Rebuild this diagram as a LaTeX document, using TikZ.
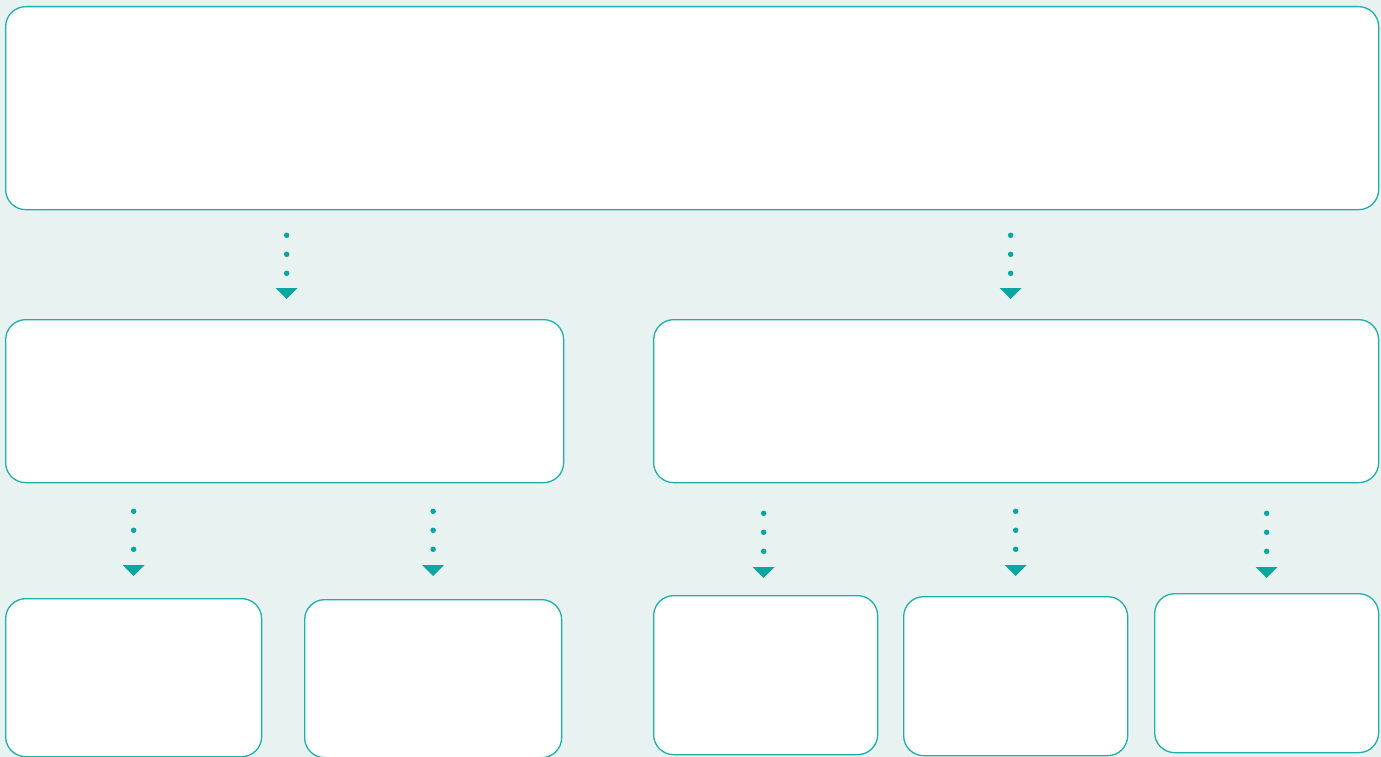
\documentclass[tikz,border=0pt]{standalone}
\usetikzlibrary{arrows.meta}
\definecolor{bgc}{HTML}{E8F2F0}
\definecolor{edgec}{HTML}{1DB0AC}
\definecolor{arrc}{HTML}{0BA6A1}
\tikzset{
  box/.style={draw=edgec, fill=white, line width=1.3pt, rounded corners=20pt, inner sep=0pt, anchor=north west},
  conn/.style={draw=arrc, line width=5.5pt, line cap=round, dash pattern=on 0pt off 19pt,
    -{Triangle[width=22pt,length=11pt,line width=0pt,fill=arrc]}},
}
\begin{document}
\begin{tikzpicture}[x=1pt,y=-1pt]
\fill[bgc] (0,0) rectangle (1381,757);
\useasboundingbox (0,0) rectangle (1381,757);
\node[box, minimum width=1373pt, minimum height=203pt] (top) at (5,6) {};
\node[box, minimum width=558pt, minimum height=163pt] (ml) at (5,319) {};
\node[box, minimum width=725pt, minimum height=163pt] (mr) at (653,319) {};
\node[box, minimum width=256pt, minimum height=158pt] (b1) at (5,598) {};
\node[box, minimum width=257pt, minimum height=158pt] (b2) at (304,599) {};
\node[box, minimum width=224pt, minimum height=159pt] (b3) at (653,595) {};
\node[box, minimum width=224pt, minimum height=159pt] (b4) at (903,596) {};
\node[box, minimum width=224pt, minimum height=159pt] (b5) at (1154,593) {};
\draw[conn, shorten <=25pt, shorten >=20pt] ([xshift=2pt]ml.north |- top.south) -- ([xshift=2pt]ml.north);
\draw[conn, shorten <=25pt, shorten >=20pt] ([xshift=-5.5pt]mr.north |- top.south) -- ([xshift=-5.5pt]mr.north);
\draw[conn, shorten <=28pt, shorten >=22pt] (b1.north |- ml.south) -- (b1.north);
\draw[conn, shorten <=28pt, shorten >=23pt] (b2.north |- ml.south) -- (b2.north);
\draw[conn, shorten <=30pt, shorten >=17pt] ([xshift=-2pt]b3.north |- mr.south) -- ([xshift=-2pt]b3.north);
\draw[conn, shorten <=28pt, shorten >=20pt] (b4.north |- mr.south) -- (b4.north);
\draw[conn, shorten <=30pt, shorten >=15pt] (b5.north |- mr.south) -- (b5.north);
\end{tikzpicture}
\end{document}
